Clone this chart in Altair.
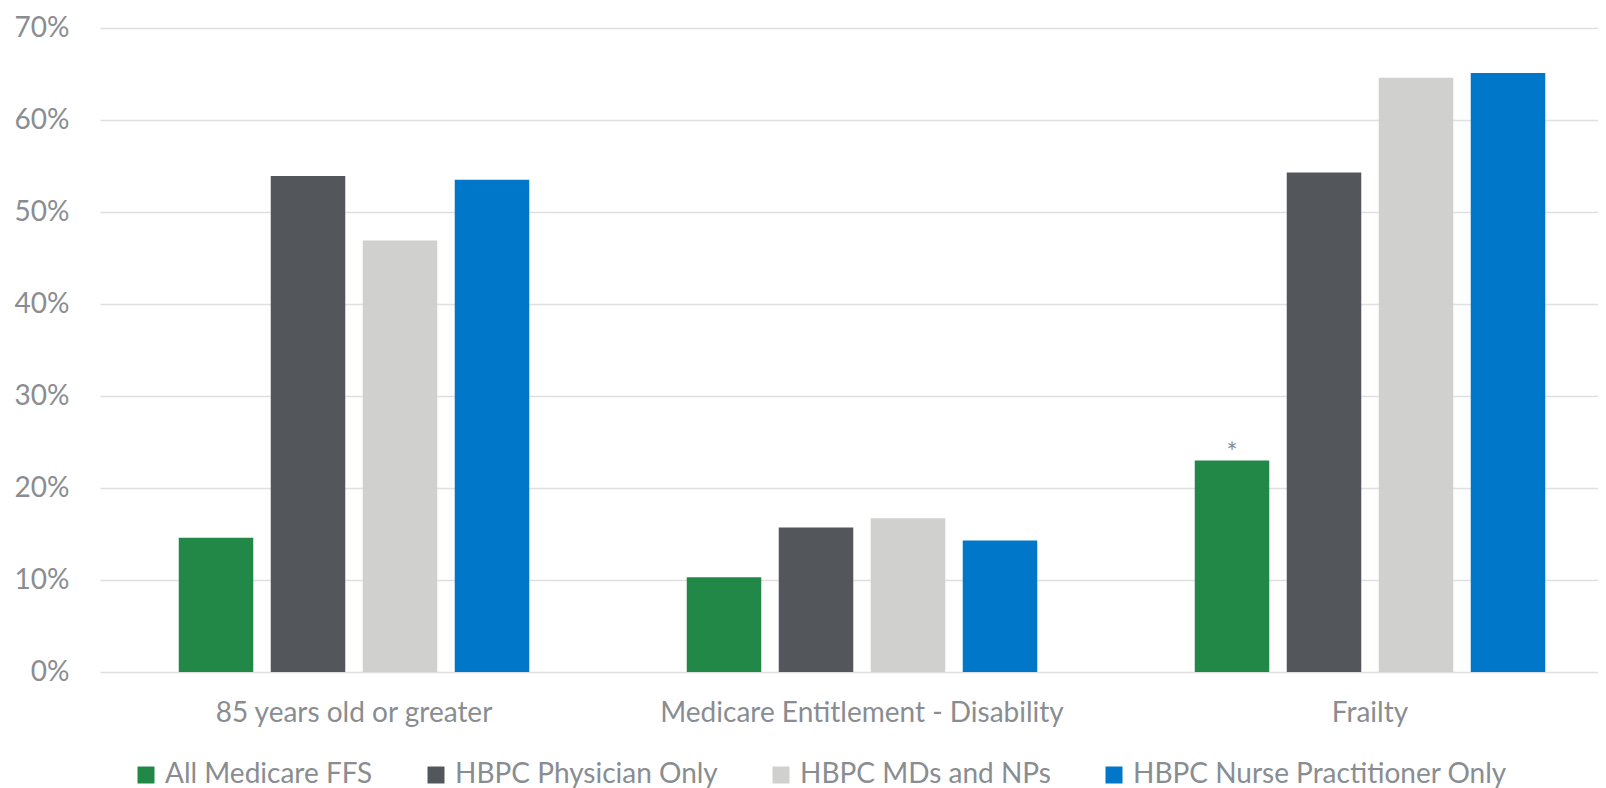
import altair as alt
import pandas as pd

categories = ["85 years old or greater", "Medicare Entitlement - Disability", "Frailty"]
series = ["All Medicare FFS", "HBPC Physician Only", "HBPC MDs and NPs", "HBPC Nurse Practitioner Only"]
all_medicare_ffs = [0.146, 0.103, 0.230]
hbpc_physician_only = [0.539, 0.157, 0.543]
hbpc_mds_and_nps = [0.469, 0.167, 0.646]
hbpc_np_only = [0.535, 0.143, 0.651]
colors = ["#218848", "#53565A", "#D0D0CE", "#0077C8"]
y_ticks = [0.0, 0.1, 0.2, 0.3, 0.4, 0.5, 0.6, 0.7]
note_category = "Frailty"
note_series = "All Medicare FFS"
note_text = "*"

values_by_series = [all_medicare_ffs, hbpc_physician_only, hbpc_mds_and_nps, hbpc_np_only]
rows = []
for s, vals in zip(series, values_by_series):
    for c, v in zip(categories, vals):
        rows.append({"category": c, "series": s, "value": v})
df = pd.DataFrame(rows)

note_df = df[(df["category"] == note_category) & (df["series"] == note_series)].copy()
note_df["note"] = note_text

FONT = "Lato"
TEXT_COLOR = "#898D91"

x_enc = alt.X(
    "category:N",
    sort=categories,
    scale=alt.Scale(range=[0, 1524], paddingInner=0, paddingOuter=0),
    axis=alt.Axis(
        title=None, labelAngle=0, labelFontSize=28, labelFont=FONT,
        labelColor=TEXT_COLOR, labelPadding=27, ticks=False, domain=False, grid=False,
        labelLimit=0,
    ),
)
xoff_enc = alt.XOffset(
    "series:N", sort=series,
    scale=alt.Scale(paddingInner=0.19, paddingOuter=0.856),
)
y_enc = alt.Y(
    "value:Q",
    scale=alt.Scale(domain=[0, 0.7], nice=False),
    axis=alt.Axis(
        values=y_ticks, format=".0%", title=None, labelFontSize=28, labelFont=FONT,
        labelColor=TEXT_COLOR, labelPadding=31, ticks=False, domain=False,
        gridColor="#E0E0E0", gridWidth=1.5,
    ),
)

bars = alt.Chart(df).mark_bar().encode(
    x=x_enc,
    xOffset=xoff_enc,
    y=y_enc,
    color=alt.Color(
        "series:N", sort=series,
        scale=alt.Scale(domain=series, range=colors),
        legend=alt.Legend(
            title=None, orient="none", direction="horizontal", columns=4,
            legendX=32, legendY=733, padding=0,
            symbolType="square", symbolSize=289, symbolStrokeWidth=0,
            labelFontSize=28, labelFont=FONT, labelColor=TEXT_COLOR,
            labelOffset=5, columnPadding=49, labelLimit=600,
        ),
    ),
)

note = alt.Chart(note_df).mark_text(
    fontSize=26, font=FONT, color=TEXT_COLOR, baseline="alphabetic", dy=2
).encode(
    x=alt.X("category:N", sort=categories),
    xOffset=alt.XOffset("series:N", sort=series),
    y=alt.Y("value:Q"),
    text="note:N",
)

chart = alt.layer(bars, note).properties(
    width=1498,
    height=644,
    autosize=alt.AutoSizeParams(type="none"),
    padding={"left": 92, "top": 20, "right": 0, "bottom": 116},
).configure_view(stroke=None)

chart.save("out.html", embed_options={"renderer": "svg", "actions": False})
